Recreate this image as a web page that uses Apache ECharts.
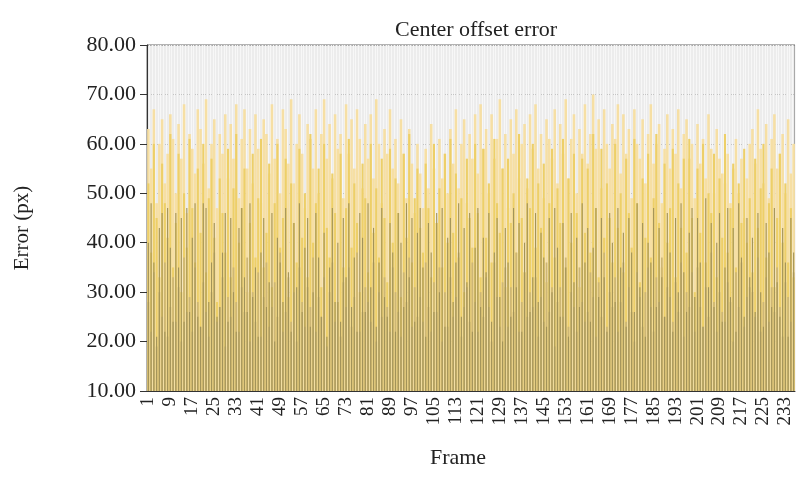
<!DOCTYPE html>
<html>
<head>
<meta charset="utf-8">
<script src="https://cdn.jsdelivr.net/npm/echarts@6/dist/echarts.min.js"></script>
<style>
  html, body { margin: 0; padding: 0; background: #fff; }
  #chart { width: 796px; height: 493px; }
</style>
</head>
<body>
<div id="chart"></div>
<script>
// frame numbers 1..236
const frames = Array.from({ length: 236 }, (_, i) => String(i + 1));

// four trackers, values (px)
const darkErr = [
  40,48,36,21,43,46,22,47,39,24,
  46,35,45,24,47,26,41,48,25,23,
  48,47,28,36,44,25,27,38,46,24,
  45,30,22,43,47,33,26,48,29,35,
  21,38,45,27,32,46,20,41,36,28,
  47,34,22,44,31,48,26,39,45,23,
  30,46,37,25,42,21,35,47,28,40,
  24,45,33,48,27,37,22,46,41,26,
  48,31,43,23,36,47,29,25,44,38,
  22,46,40,27,48,33,45,24,42,47,
  35,21,44,38,26,46,30,47,23,41,
  45,28,36,48,25,43,32,46,22,39,
  47,27,41,34,46,24,38,45,29,20,
  43,36,25,47,31,44,22,40,48,26,
  33,46,28,42,37,23,45,30,47,39,
  25,44,35,21,46,32,41,27,48,36,
  43,24,39,47,29,45,33,22,46,40,
  28,47,35,42,23,45,38,26,48,31,
  44,21,40,36,47,27,43,33,25,46,
  38,22,45,30,48,34,26,42,47,29,
  45,36,23,49,31,44,27,40,46,24,
  35,47,29,43,22,48,37,25,45,33,
  41,26,46,30,23,44,38,27,47,32,
  25,43,36,21,45,38
];

const tanErr = [
  28,22,34,19,30,25,36,21,27,33,
  24,31,20,37,26,29,22,35,28,23,
  32,26,21,30,38,24,27,33,19,29,
  25,35,28,22,31,26,37,20,30,24,
  34,21,29,36,23,27,32,25,38,22,
  26,33,24,30,20,35,28,23,31,27,
  37,22,29,25,33,19,30,36,24,28,
  21,32,27,35,23,29,38,22,26,31,
  28,24,36,20,30,25,33,27,22,35,
  30,26,21,34,28,37,23,31,25,29,
  24,36,27,22,32,26,35,20,30,23,
  33,25,29,38,21,27,31,24,36,28,
  22,30,25,33,27,20,36,29,23,32,
  35,23,31,26,38,22,28,34,25,30,
  27,33,21,29,24,36,26,31,19,28,
  31,25,37,23,30,27,22,35,28,24,
  26,34,29,21,32,25,38,23,30,27,
  33,22,28,36,24,31,26,20,34,29,
  23,30,35,27,22,33,28,37,25,31,
  29,24,32,26,36,21,30,27,34,22,
  35,27,23,31,25,38,28,22,30,26,
  24,32,28,20,34,27,36,23,29,31,
  30,25,37,22,28,33,24,31,26,35,
  27,21,32,29,24,34
];

const midErr = [
  52,38,60,45,33,56,48,41,62,35,
  44,58,30,50,39,61,47,36,55,42,
  60,34,49,57,41,28,53,46,38,59,
  33,51,62,40,47,55,30,44,58,37,
  49,61,35,42,56,31,48,60,39,45,
  57,29,52,44,36,59,41,50,33,62,
  40,48,55,31,60,43,37,54,46,28,
  58,35,47,61,39,52,44,30,56,49,
  34,60,42,51,37,57,45,32,59,40,
  53,46,29,58,41,62,36,49,55,43,
  38,56,47,33,60,44,51,35,58,40,
  61,42,54,37,49,30,57,45,39,60,
  46,33,59,41,52,36,61,48,42,55,
  31,57,44,50,38,62,45,34,53,47,
  60,39,52,43,56,32,48,59,37,51,
  44,61,35,53,40,58,46,31,57,42,
  55,38,62,47,33,59,41,52,45,36,
  60,43,50,34,57,46,39,61,48,32,
  53,41,58,37,49,62,44,35,56,40,
  47,59,33,52,43,57,38,61,45,30,
  55,42,60,36,50,46,58,33,53,41,
  62,38,47,56,35,52,44,59,40,49,
  34,57,43,51,60,37,48,55,31,45,
  58,40,52,36,47,33
];

const lightErr = [
  63,55,67,48,60,65,52,58,66,61,
  50,64,57,68,46,62,59,54,67,63,
  56,69,51,60,65,47,62,58,66,53,
  64,57,68,49,61,67,55,63,52,66,
  59,48,65,62,54,68,57,61,50,67,
  63,56,69,52,60,66,58,47,64,61,
  55,67,50,62,69,57,64,53,66,59,
  62,49,68,58,65,55,67,61,51,64,
  57,66,53,69,60,48,63,58,67,55,
  61,52,65,58,49,63,56,46,60,54,
  47,59,51,64,55,44,61,53,58,50,
  63,56,67,51,60,65,48,62,57,66,
  54,68,59,63,50,66,57,61,69,55,
  62,47,65,58,67,53,60,64,51,66,
  59,68,55,62,49,65,61,57,67,52,
  64,58,69,53,61,66,50,63,58,68,
  56,62,70,59,65,51,67,60,55,64,
  61,68,54,66,58,63,49,67,60,57,
  65,52,62,68,56,60,64,48,59,66,
  55,63,58,67,51,62,65,57,60,49,
  64,56,61,53,66,59,50,63,57,54,
  52,58,48,55,61,50,57,45,53,60,
  63,56,67,59,52,64,49,61,66,55,
  58,62,50,65,54,60
];

const serif = "Liberation Serif";
const chart = echarts.init(document.getElementById("chart"));

// one hidden category axis per tracker so the bars sit centred on top of each other
const hiddenX = () => ({
  type: "category",
  data: frames,
  show: false,
});

chart.setOption({
  animation: false,
  backgroundColor: "#fff",
  title: {
    text: "Center offset error",
    left: 471,
    top: 14,
    textAlign: "center",
    textStyle: { fontFamily: serif, fontSize: 22, fontWeight: "normal", color: "#222" },
  },
  grid: {
    left: 147,
    right: 1,
    top: 45,
    bottom: 102,
    show: true,
    backgroundColor: "#ececec",
    borderColor: "#666",
    borderWidth: 1,
  },
  xAxis: [
    {
      type: "category",
      data: frames,
      name: "Frame",
      nameLocation: "middle",
      nameGap: 56,
      nameTextStyle: { fontFamily: serif, fontSize: 22, color: "#222", padding: [0, 26, 0, 0] },
      axisLine: { lineStyle: { color: "#333", width: 1 } },
      axisTick: { interval: 7, alignWithLabel: true, length: 6, lineStyle: { color: "#333" } },
      axisLabel: {
        interval: 7,
        rotate: 90,
        margin: 6,
        fontFamily: serif,
        fontSize: 19,
        color: "#222",
      },
      splitLine: { show: true, interval: 0, lineStyle: { color: "#f7f7f7", width: 1 } },
    },
    hiddenX(),
    hiddenX(),
    hiddenX(),
  ],
  yAxis: {
    type: "value",
    min: 10,
    max: 80,
    interval: 10,
    name: "Error (px)",
    nameLocation: "middle",
    nameGap: 114,
    nameTextStyle: { fontFamily: serif, fontSize: 21, color: "#222", padding: [0, 20, 0, 0] },
    axisLine: { show: true, lineStyle: { color: "#333" } },
    axisTick: { show: true, length: 7, lineStyle: { color: "#333" } },
    axisLabel: {
      margin: 11,
      fontFamily: serif,
      fontSize: 22,
      color: "#222",
      formatter: (v) => v.toFixed(2),
    },
    splitLine: { show: true, lineStyle: { color: "#c4c4c4", type: "dotted", width: 1 } },
  },
  series: [
    { name: "D", type: "bar", xAxisIndex: 0, data: lightErr, barCategoryGap: "6%", itemStyle: { color: "#f6dfa4" }, z: 2 },
    { name: "C", type: "bar", xAxisIndex: 1, data: midErr, barWidth: 2.1, itemStyle: { color: "#edcf68" }, z: 3 },
    { name: "B", type: "bar", xAxisIndex: 2, data: tanErr, barWidth: 1.7, itemStyle: { color: "#cdb675" }, z: 4 },
    { name: "A", type: "bar", xAxisIndex: 3, data: darkErr, barWidth: 1.1, itemStyle: { color: "#a29359" }, z: 5 },
  ],
});
</script>
</body>
</html>
